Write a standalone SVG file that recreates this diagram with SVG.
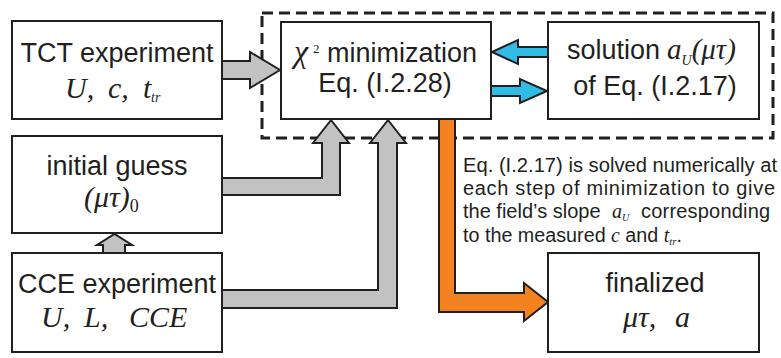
<svg xmlns="http://www.w3.org/2000/svg" width="781" height="358" viewBox="0 0 781 358">
<style>
.box{fill:#fff;stroke:#231f20;stroke-width:2}
.t{font-family:"Liberation Sans",Arial,sans-serif;font-size:27px;fill:#231f20}
.m{font-family:"Liberation Serif","Times New Roman",serif;font-style:italic;font-size:30px;fill:#231f20}
.n{font-family:"Liberation Sans",Arial,sans-serif;font-size:20px;fill:#231f20}
.mi{font-family:"Liberation Serif","Times New Roman",serif;font-style:italic}
.gray{fill:#c2c2c2;stroke:#231f20;stroke-width:2;stroke-linejoin:miter}
.cyan{fill:#2fbde6;stroke:#231f20;stroke-width:2}
.orange{fill:#f58220;stroke:#231f20;stroke-width:2}
.dash{fill:none;stroke:#231f20;stroke-width:3;stroke-dasharray:11 6}
</style>
<rect width="781" height="358" fill="#fff"/>
<rect id="group-box" class="dash" x="262" y="13" width="511" height="125"/>
<g id="connectors">
<polygon class="gray" points="222,61 250,61 250,52 280,70 250,88 250,79 222,79"/>
<polygon class="gray" points="222,178 322,178 322,143 313,143 331,120 349,143 340,143 340,195 222,195"/>
<polygon class="gray" points="222,290 378,290 378,143 370,143 388,120 406,143 397,143 397,308 222,308"/>
<polygon class="gray" points="103,253 103,245 97,245 114.5,234 132,245 125,245 125,253"/>
<polygon class="cyan" points="548,47 518,47 518,40 492,52 518,64 518,57 548,57"/>
<polygon class="cyan" points="491,86 520,86 520,79 547,91 520,103 520,96 491,96"/>
<polygon class="orange" points="439,119 455,119 455,293 524,293 524,283 548,302 524,321 524,312 439,312"/>
</g>
<g id="tct">
<rect class="box" x="12" y="21" width="210" height="98"/>
<text class="t" x="117" y="62" text-anchor="middle">TCT experiment</text>
<text class="m" y="98"><tspan x="65">U,</tspan><tspan x="108">c,</tspan><tspan x="143">t</tspan><tspan x="151" y="102" style="font-size:14px">tr</tspan></text>
</g>
<g id="initial">
<rect class="box" x="12" y="136" width="210" height="97"/>
<text class="t" x="117" y="175" text-anchor="middle">initial guess</text>
<text class="m" y="207"><tspan x="84">(μτ)</tspan><tspan y="212" style="font-size:18px;font-style:normal">0</tspan></text>
</g>
<g id="cce">
<rect class="box" x="12" y="253" width="210" height="99"/>
<text class="t" x="117" y="293" text-anchor="middle">CCE experiment</text>
<text class="m" y="327"><tspan x="41">U,</tspan><tspan x="84">L,</tspan><tspan x="129">CCE</tspan></text>
</g>
<g id="chi">
<rect class="box" x="281" y="22" width="210" height="97"/>
<text class="m" x="294" y="62" style="font-size:32px">χ</text>
<text class="m" x="313" y="53" style="font-size:13px;font-style:normal">2</text>
<text class="t" x="327" y="62">minimization</text>
<text class="t" x="385" y="92" text-anchor="middle">Eq. (I.2.28)</text>
</g>
<g id="solution">
<rect class="box" x="548" y="22" width="211" height="97"/>
<text class="t" x="567" y="59">solution</text>
<text class="m" y="59" style="font-size:29px"><tspan x="667">a</tspan><tspan y="65" style="font-size:14px">U</tspan><tspan y="59">(μτ)</tspan></text>
<text class="t" x="655" y="95" text-anchor="middle">of Eq. (I.2.17)</text>
</g>
<g id="finalized">
<rect class="box" x="548" y="253" width="211" height="99"/>
<text class="t" x="655" y="292" text-anchor="middle">finalized</text>
<text class="m" y="327"><tspan x="623">μτ,</tspan><tspan x="675">a</tspan></text>
</g>
<g id="note">
<text class="n" x="463" y="172" textLength="314" lengthAdjust="spacingAndGlyphs">Eq. (I.2.17) is solved numerically at</text>
<text class="n" x="463" y="195" textLength="312" lengthAdjust="spacing">each step of minimization to give</text>
<text class="n" y="218"><tspan x="463">the field’s slope</tspan><tspan x="612" class="mi">a</tspan><tspan class="mi" style="font-size:10px" y="221">U</tspan><tspan x="641" y="218" style="letter-spacing:0.2px">corresponding</tspan></text>
<text class="n" x="463" y="242" textLength="219" lengthAdjust="spacingAndGlyphs">to the measured <tspan class="mi">c</tspan> and <tspan class="mi">t</tspan><tspan class="mi" style="font-size:11px" y="245">tr</tspan><tspan y="242">.</tspan></text>
</g>
</svg>
